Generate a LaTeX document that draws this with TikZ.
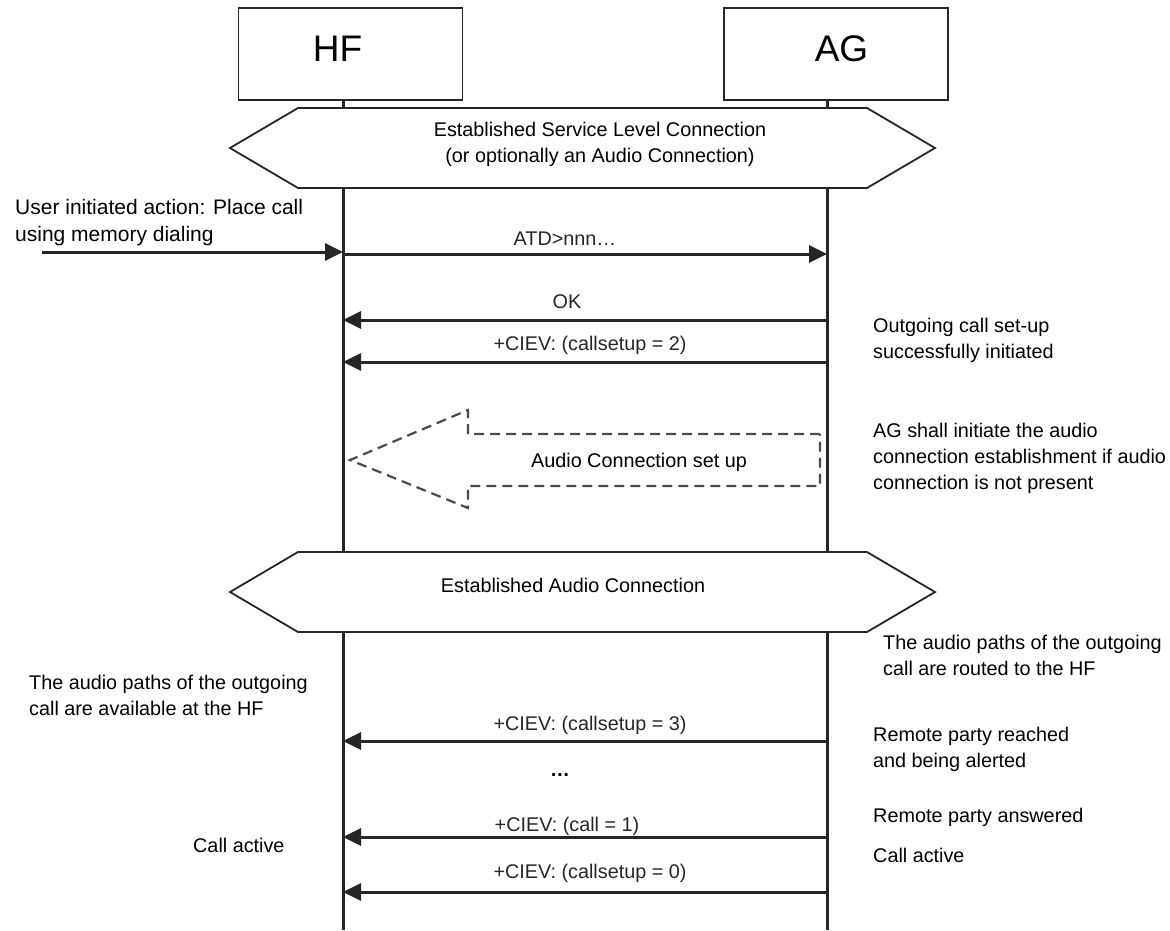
\documentclass[tikz,border=0pt]{standalone}
\usepackage{fontspec}
\setmainfont{Liberation Sans}
\usetikzlibrary{arrows.meta, positioning, calc}
\tikzset{
    entity/.style={rectangle, draw=black!85, line width=1.8pt,
                   minimum width=224pt, minimum height=92pt, inner sep=0pt},
    entitytext/.style={font=\fontsize{37}{40}\selectfont, inner sep=0pt},
    lifeline/.style={line width=3pt, black!85},
    phase/.style={draw=black!85, line width=1.8pt, fill=white},
    phasetext/.style={font=\fontsize{19.8}{26}\selectfont, align=center, inner sep=0pt},
    msg/.style={-{Triangle[length=18pt, width=17pt]}, line width=3pt, black!85},
    msglabel/.style={font=\fontsize{19.8}{26}\selectfont, inner sep=0pt, text depth=0pt},
    setup/.style={draw=black!70, line width=2.2pt, dash pattern=on 10pt off 6pt},
    note/.style={font=\fontsize{19.8}{26}\selectfont, align=left, inner sep=0pt, anchor=west}
}
\begin{document}
\begin{tikzpicture}[x=1pt, y=-1pt]
    \useasboundingbox (0,0) rectangle (1170,930);
    \node[entity] (hf) at (350.5,54) {};
    \node[entity] (ag) at (836,54) {};
    \node[entitytext] (hflbl) at (337.5,49) {HF};
    \node[entitytext] (aglbl) at (841.5,49) {AG};
    \coordinate (hfl) at (343,930);
    \coordinate (agl) at (827,930);
    \draw[lifeline] (hfl |- hf.south) -- (hfl);
    \draw[lifeline] (agl |- ag.south) -- (agl);

    \draw[phase] (230,148) -- (298,108) -- (867,108) -- (935,148) -- (867,188) -- (298,188) -- cycle;
    \node[phasetext] (slc) at (600,144) {Established Service Level Connection\\(or optionally an Audio Connection)};

    \node[note, font=\fontsize{21}{27}\selectfont] (user) at (15,223) {User initiated action: Place call\\using memory dialing};
    \coordinate (usr) at (42,252);
    \coordinate (m1) at (0,254);
    \coordinate (m2) at (0,320);
    \coordinate (m3) at (0,362);
    \draw[msg] (usr) -- (hfl |- usr);
    \draw[msg] (hfl |- m1) -- node[msglabel, above=7pt, xshift=-20pt]{ATD>nnn…} (agl |- m1);
    \draw[msg] (agl |- m2) -- node[msglabel, above=10pt, xshift=-18pt]{OK} (hfl |- m2);
    \draw[msg] (agl |- m3) -- node[msglabel, above=10pt, xshift=5pt]{+CIEV: (callsetup = 2)} (hfl |- m3);
    \node[note] (init) at (873,340) {Outgoing call set-up\\successfully initiated};

    \draw[setup] (820,434) -- (468,434) -- (468,410) -- (350,460) -- (468,508) -- (468,486) -- (820,486) -- cycle;
    \node[msglabel] (acs) at (639,460) {Audio Connection set up};
    \node[note] (agnote) at (873,458) {AG shall initiate the audio\\connection establishment if audio\\connection is not present};

    \draw[phase] (230,592) -- (298,552) -- (867,552) -- (935,592) -- (867,632) -- (298,632) -- cycle;
    \node[phasetext] (eac) at (573,585) {Established Audio Connection};
    \node[note] (routed) at (883,655) {The audio paths of the outgoing\\call are routed to the HF};
    \node[note] (avail) at (29,695) {The audio paths of the outgoing\\call are available at the HF};

    \coordinate (m4) at (0,741);
    \coordinate (m5) at (0,837);
    \coordinate (m6) at (0,892);
    \draw[msg] (agl |- m4) -- node[msglabel, above=9pt, xshift=5pt]{+CIEV: (callsetup = 3)} (hfl |- m4);
    \node[msglabel] (more) at (560,775) {\textbf{…}};
    \draw[msg] (agl |- m5) -- node[msglabel, above=4pt, xshift=-18pt]{+CIEV: (call = 1)} (hfl |- m5);
    \draw[msg] (agl |- m6) -- node[msglabel, above=12pt, xshift=5pt]{+CIEV: (callsetup = 0)} (hfl |- m6);
    \node[note] (reached) at (873,749) {Remote party reached\\and being alerted};
    \node[note] (answered) at (873,817) {Remote party answered};
    \node[note] (activeag) at (873,855) {Call active};
    \node[note] (activehf) at (193,845) {Call active};
\end{tikzpicture}
\end{document}
